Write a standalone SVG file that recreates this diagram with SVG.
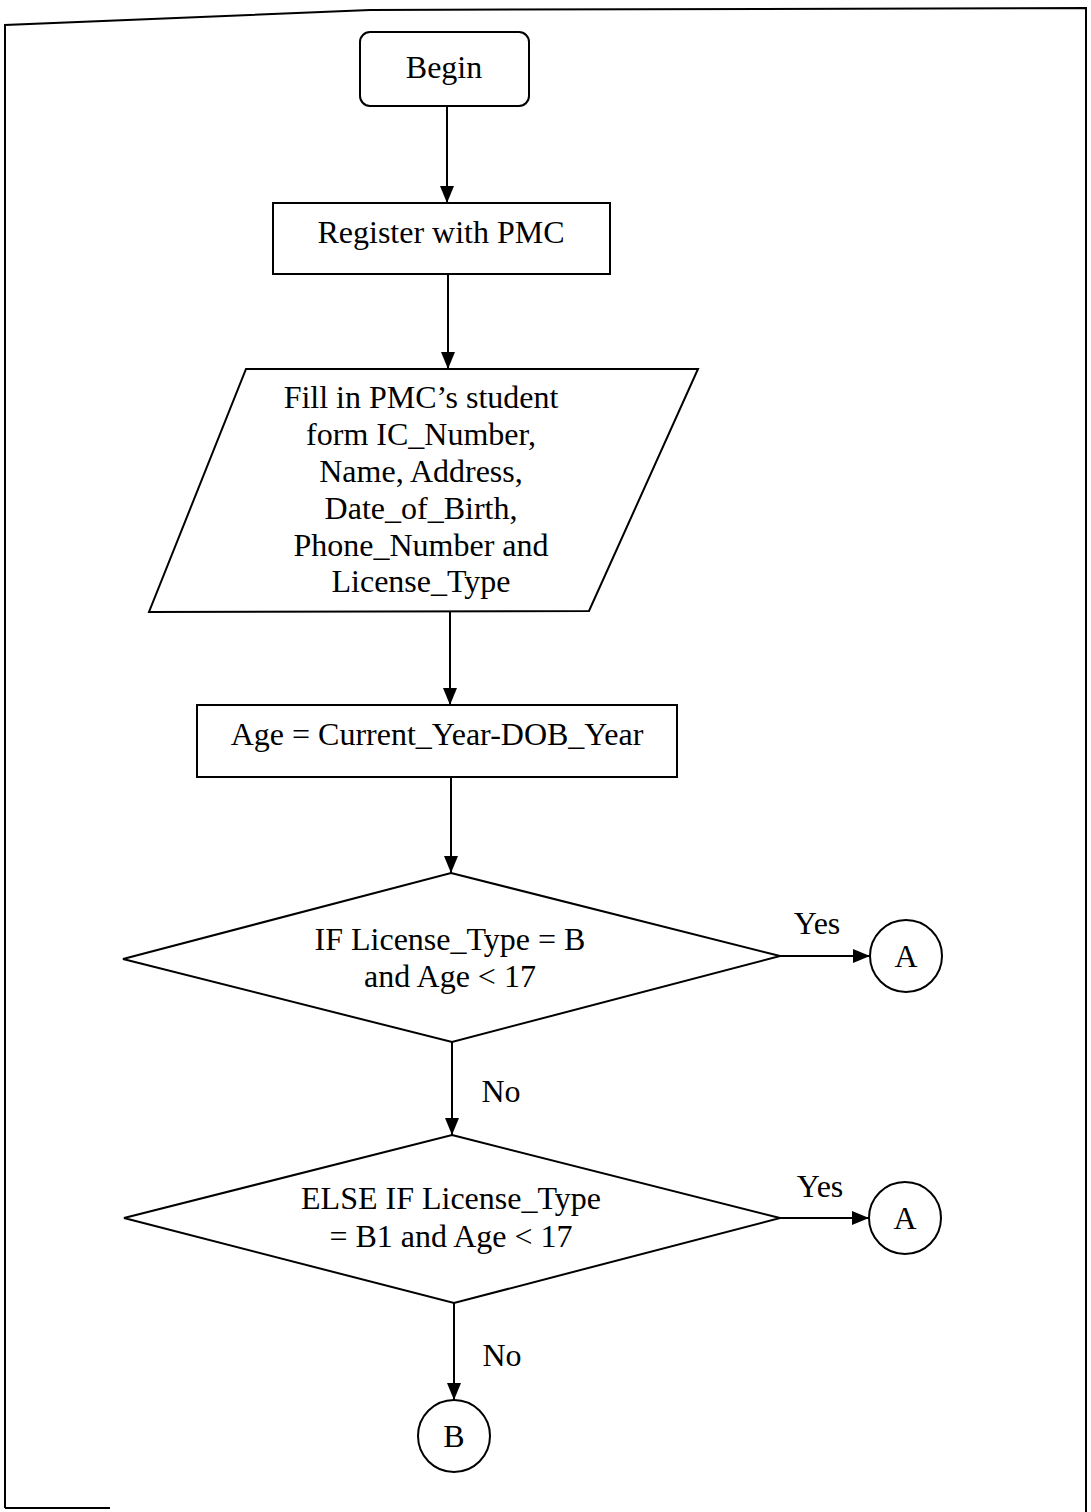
<svg xmlns="http://www.w3.org/2000/svg" width="1091" height="1512" viewBox="0 0 1091 1512">
<defs>
<style>
.s{fill:#fff;stroke:#000;stroke-width:2}
.t{font-family:"Liberation Serif","Times New Roman",serif;font-size:32px;fill:#000;text-anchor:middle}
.c{fill:none;stroke:#000;stroke-width:2}
.b{fill:none;stroke:#000;stroke-width:2}
</style>
<marker id="ah" markerWidth="17" markerHeight="14" refX="17" refY="7" orient="auto" markerUnits="userSpaceOnUse">
<path d="M0,0 L17,7 L0,14 Z" fill="#000"/>
</marker>
</defs>
<rect width="1091" height="1512" fill="#fff"/>
<path class="b" d="M5,1508 L5,25 L370,10 L1086,8 L1086,1512"/>
<path class="b" d="M5,1508 L110,1508"/>
<g id="connectors">
<line class="c" x1="447" y1="106" x2="447" y2="203" marker-end="url(#ah)"/>
<line class="c" x1="448" y1="274" x2="448" y2="369" marker-end="url(#ah)"/>
<line class="c" x1="450" y1="612" x2="450" y2="705" marker-end="url(#ah)"/>
<line class="c" x1="451" y1="777" x2="451" y2="873" marker-end="url(#ah)"/>
<line class="c" x1="780" y1="956" x2="870" y2="956" marker-end="url(#ah)"/>
<line class="c" x1="452" y1="1042" x2="452" y2="1135" marker-end="url(#ah)"/>
<line class="c" x1="780" y1="1218" x2="869" y2="1218" marker-end="url(#ah)"/>
<line class="c" x1="454" y1="1303" x2="454" y2="1400" marker-end="url(#ah)"/>
<text class="t" x="817" y="934">Yes</text>
<text class="t" x="501" y="1102">No</text>
<text class="t" x="820" y="1197">Yes</text>
<text class="t" x="502" y="1366">No</text>
</g>
<g id="begin">
<rect class="s" x="360" y="32" width="169" height="74" rx="10"/>
<text class="t" x="444" y="78">Begin</text>
</g>
<g id="register">
<rect class="s" x="273" y="203" width="337" height="71"/>
<text class="t" x="441" y="243">Register with PMC</text>
</g>
<g id="fill-form">
<polygon class="s" points="246,369 698,369 589,611 149,612"/>
<text class="t" x="421" y="408">Fill in PMC’s student</text>
<text class="t" x="421" y="445">form IC_Number,</text>
<text class="t" x="421" y="482">Name, Address,</text>
<text class="t" x="421" y="519">Date_of_Birth,</text>
<text class="t" x="421" y="556">Phone_Number and</text>
<text class="t" x="421" y="592">License_Type</text>
</g>
<g id="age">
<rect class="s" x="197" y="705" width="480" height="72"/>
<text class="t" x="437" y="745">Age = Current_Year-DOB_Year</text>
</g>
<g id="decision1">
<polygon class="s" points="451,873 780,956 452,1042 123,959"/>
<text class="t" x="450" y="950">IF License_Type = B</text>
<text class="t" x="450" y="987">and Age &lt; 17</text>
</g>
<g id="connector-a1">
<circle class="s" cx="906" cy="956" r="36"/>
<text class="t" x="906" y="967">A</text>
</g>
<g id="decision2">
<polygon class="s" points="452,1135 780,1218 454,1303 124,1218"/>
<text class="t" x="451" y="1209">ELSE IF License_Type</text>
<text class="t" x="451" y="1247">= B1 and Age &lt; 17</text>
</g>
<g id="connector-a2">
<circle class="s" cx="905" cy="1218" r="36"/>
<text class="t" x="905" y="1229">A</text>
</g>
<g id="connector-b">
<circle class="s" cx="454" cy="1436" r="36"/>
<text class="t" x="454" y="1447">B</text>
</g>
</svg>
